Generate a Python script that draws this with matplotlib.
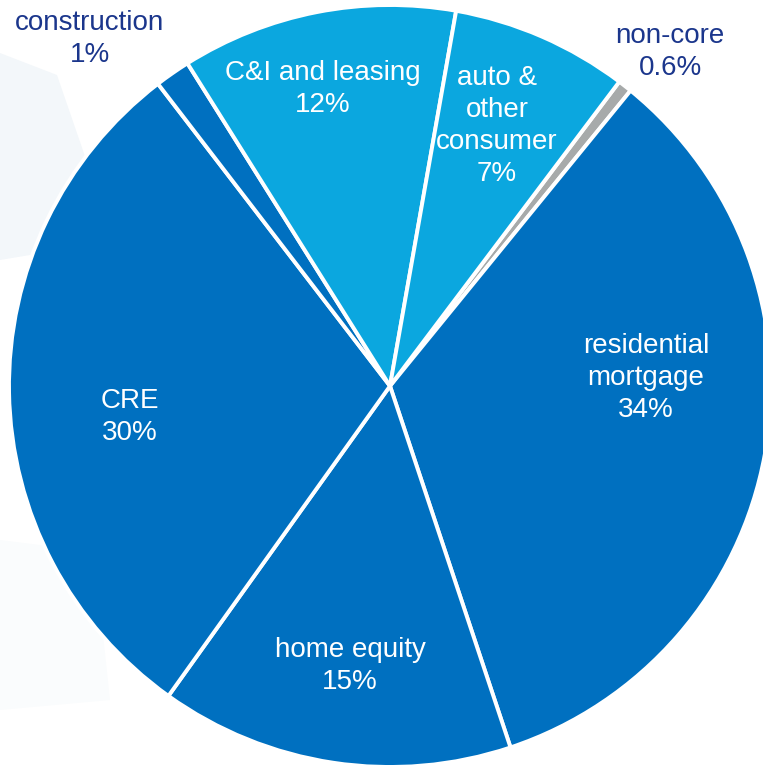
import matplotlib
matplotlib.use("Agg")
import matplotlib.pyplot as plt
from matplotlib.patches import Polygon

plt.rcParams['font.family'] = ['Liberation Sans', 'DejaVu Sans']

categories = ["non-core", "residential\nmortgage", "home equity", "CRE",
              "construction", "C&I and leasing", "auto &\nother\nconsumer"]
values = [0.6, 34, 15, 29.7, 1.5, 11.7, 7.5]
pct_labels = ["0.6%", "34%", "15%", "30%", "1%", "12%", "7%"]

colors = ["#A7AAAA", "#0070C0", "#0070C0", "#0070C0", "#0070C0", "#0BA7DF", "#0BA7DF"]
text_colors = ["#1B368C", "white", "white", "white", "#1B368C", "white", "white"]
# label centres in pixel coordinates (x, y from top)
label_pos = [(670, 52), (646, 378), (350, 666), (130, 417), (90, 39), (323, 89), (497, 126)]

W, H = 763, 765
fig = plt.figure(figsize=(W / 100, H / 100), dpi=100)
ax = fig.add_axes([0, 0, 1, 1])

# faint background hexagon shapes
bg1 = Polygon([(0, H - 53), (57, H - 75), (88, H - 165), (60, H - 250), (0, H - 260)],
              closed=True, facecolor="#F3F7FA", edgecolor="none", zorder=0)
bg2 = Polygon([(0, H - 540), (40, H - 545), (95, H - 560), (110, H - 700), (0, H - 710)],
              closed=True, facecolor="#FAFCFD", edgecolor="none", zorder=0)
ax.add_patch(bg1)
ax.add_patch(bg2)

cx, cy, r = 390, H - 386, 381
wedges, _ = ax.pie(values, colors=colors, startangle=53, counterclock=False,
                   center=(cx, cy), radius=r, frame=True,
                   wedgeprops=dict(edgecolor="white", linewidth=2.8))
ax.set_xlim(0, W)
ax.set_ylim(0, H)
ax.set_aspect("equal")
ax.axis("off")

for cat, pct, (x, y), tc in zip(categories, pct_labels, label_pos, text_colors):
    ax.text(x, H - y, f"{cat}\n{pct}", ha="center", va="center", color=tc,
            fontsize=20, linespacing=1.3, zorder=5)

fig.savefig("out.png", dpi=100)
